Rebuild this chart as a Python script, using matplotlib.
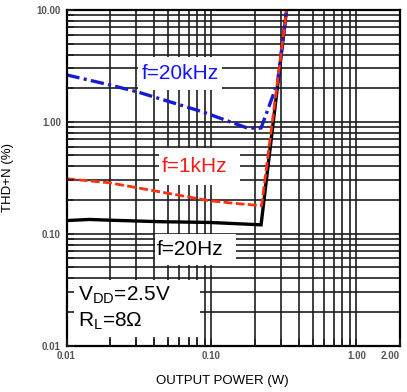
import matplotlib
matplotlib.use("Agg")
import matplotlib.pyplot as plt
from matplotlib.patches import Rectangle

plt.rcParams['font.family'] = ['Liberation Sans', 'DejaVu Sans']
plt.rcParams['mathtext.fontset'] = 'custom'
plt.rcParams['mathtext.rm'] = 'Liberation Sans'

# THD+N vs output power
power_20khz = [0.01, 0.0198, 0.031, 0.0866, 0.177, 0.22, 0.285, 0.33]
thd_20khz = [2.63, 2.14, 1.85, 1.23, 0.88, 0.88, 2.2, 10.0]

power_1khz = [0.01, 0.0198, 0.0438, 0.097, 0.156, 0.222, 0.33]
thd_1khz = [0.31, 0.285, 0.237, 0.197, 0.185, 0.178, 10.0]

power_20hz = [0.01, 0.0144, 0.0197, 0.0438, 0.097, 0.22, 0.33]
thd_20hz = [0.131, 0.134, 0.132, 0.128, 0.126, 0.12, 10.0]

x_ticks = [0.01, 0.1, 1.0, 2.0]
x_tick_labels = ['0.01', '0.10', '1.00', '2.00']
y_ticks = [0.01, 0.1, 1.0, 10.0]
y_tick_labels = ['0.01', '0.10', '1.00', '10.00']

fig = plt.figure(figsize=(4.07, 3.92), dpi=100)
ax = fig.add_axes([66.5 / 407, 1 - 345.5 / 392, 333.5 / 407, 335.5 / 392])
ax.set_xscale('log')
ax.set_yscale('log')
ax.set_xlim(0.01, 2.0)
ax.set_ylim(0.01, 10.0)

# grid drawn by hand so white label boxes can sit above it
for dec in [0.01, 0.1, 1.0]:
    for m in range(1, 10):
        v = dec * m
        if 0.01 < v < 2.0:
            ax.axvline(v, color='#1e1e1e', lw=1.2, zorder=1)
for dec in [0.01, 0.1, 1.0]:
    for m in range(1, 10):
        v = dec * m
        if 0.01 < v < 10.0:
            ax.axhline(v, color='#1e1e1e', lw=1.2, zorder=1)

# white label boxes (axes fraction)
boxes = [(0.214, 0.762, 0.252, 0.098),
         (0.277, 0.478, 0.243, 0.111),
         (0.265, 0.240, 0.243, 0.092),
         (0.0, 0.025, 0.400, 0.170)]
for bx, by, bw, bh in boxes:
    ax.add_patch(Rectangle((bx, by), bw, bh, transform=ax.transAxes,
                           facecolor='white', edgecolor='none', zorder=2))

ax.plot(power_20hz, thd_20hz, color='black', lw=2.4, zorder=3, solid_joinstyle='miter')
ax.plot(power_20khz, thd_20khz, color='#1a1ad0', lw=2.4, ls=(0, (4.0, 1.3, 0.9, 1.3)), zorder=3.5)
ax.plot(power_1khz, thd_1khz, color='#ff3010', lw=2.0, ls=(0, (3.2, 1.2)), zorder=4)

ax.text(0.227, 0.811, 'f=20kHz', transform=ax.transAxes, color='#1414ff',
        fontsize=15, va='center', ha='left', zorder=5)
ax.text(0.286, 0.534, 'f=1kHz', transform=ax.transAxes, color='#ff1a1a',
        fontsize=15, va='center', ha='left', zorder=5)
ax.text(0.272, 0.285, 'f=20Hz', transform=ax.transAxes, color='black',
        fontsize=15, va='center', ha='left', zorder=5)
ax.text(0.034, 0.150, r'V$_{\mathregular{DD}}$=2.5V', transform=ax.transAxes,
        color='black', fontsize=15, va='center', ha='left', zorder=5)
ax.text(0.034, 0.073, r'R$_{\mathregular{L}}$=8Ω', transform=ax.transAxes,
        color='black', fontsize=15, va='center', ha='left', zorder=5)

ax.set_xticks(x_ticks)
ax.set_xticklabels(x_tick_labels)
ax.set_yticks(y_ticks)
ax.set_yticklabels(y_tick_labels)
ax.tick_params(which='both', direction='in', length=5, width=1.2, color='#1e1e1e')
ax.tick_params(which='major', labelsize=7, labelcolor='#555555', pad=4)
for lbl in ax.get_xticklabels() + ax.get_yticklabels():
    lbl.set_fontweight('bold')
ax.get_xticklabels()[-1].set_horizontalalignment('right')
ax.xaxis.set_zorder(6)
ax.yaxis.set_zorder(6)
for s in ax.spines.values():
    s.set_linewidth(1.6)
    s.set_zorder(6)

fig.text(8 / 407, 1 - 178 / 392, 'THD+N (%)', rotation=90, fontsize=9.5,
         ha='center', va='center')
fig.text(222 / 407, 1 - 381 / 392, 'OUTPUT POWER (W)', fontsize=9.5,
         ha='center', va='center')

fig.savefig('out.png', dpi=100)
